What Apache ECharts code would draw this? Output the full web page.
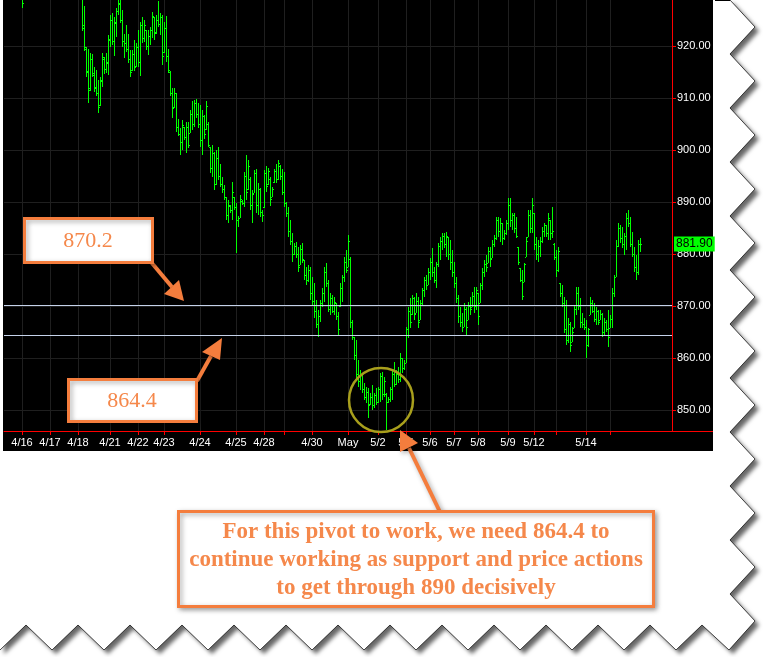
<!DOCTYPE html>
<html><head><meta charset="utf-8">
<script src="https://cdn.jsdelivr.net/npm/echarts@6.0.0/dist/echarts.min.js"></script>
<style>html,body{margin:0;padding:0;background:#fff;}#c{width:763px;height:657px;}</style>
</head><body><div id="c"></div>
<script>
// ---- data ----
const categoryCount = 335;
const tickIndex  = [9, 23, 37, 53, 67, 80, 98, 116, 130, 140, 154, 172, 187, 201, 213, 225, 237, 252, 265, 276, 291, 303];
const tickLabels = ['4/16','4/17','4/18','4/21','4/22','4/23','4/24','4/25','4/28','','4/30','May','5/2','5/5','5/6','5/7','5/8','5/9','5/12','','5/14',''];
const priceTicks = [850, 860, 870, 880, 890, 900, 910, 920];
const yMin = 845.96, yMax = 928.85;
const supportLevels = [870.2, 864.4];
const lastPrice = 881.9;
const barsFrom = 9;
// [open, high, low, close]
const bars = [
[932.0,933.0,927.3,928.2],
null,null,null,null,null,null,null,null,null,null,null,null,null,null,null,null,null,null,null,null,null,null,null,null,null,null,null,null,null,
[929,930.5,922.9,923.5],[924,927.6,919.1,919.8],[919.5,919.8,914.0,915.2],[915,919.4,909.0,911.5],[912,918.6,911.4,917.5],
[917.5,918.5,914.1,914.8],[914.5,916.0,911.2,912.0],[912.2,915.4,910.3,911.0],[911,913.5,907.2,908.2],[908.6,914.1,908.5,913.5],
[913.2,918.6,912.2,917.9],[917.5,917.8,914.6,915.5],[915.5,918.6,914.8,917.0],[916.8,922.1,914.4,921.4],[921.2,926.0,919.9,925.0],
[925.0,926.3,920.2,921.0],[921,925.6,918.0,924.5],[924.6,927.3,921.8,926.8],[926.8,930.0,926.0,928.0],[928.2,929.5,924.4,925.0],
[925,926.9,919.9,921.0],[921,922.4,917.6,920.5],[920.5,924.0,918.9,919.5],[919.5,922.4,916.7,917.5],[917.5,919.2,914.0,915.0],
[915.3,919.2,915.1,918.5],[918.5,921.2,915.1,916.0],[916.2,920.5,916.0,919.8],[919.8,923.1,916.0,917.0],[917,924.7,914.2,924.0],
[924.0,925.6,920.6,921.5],[921.5,925.0,920.8,924.0],[923.0,923.1,919.2,920.0],[920,923.1,918.3,922.0],[922,923.7,920.2,923.0],
[923,926.6,921.5,925.8],[925.5,925.6,921.2,922.5],[922.6,926.0,922.4,925.0],[925,928.7,923.7,924.2],[924.2,926.3,922.1,925.5],
[925.5,926.0,916.3,918.0],[918.8,924.7,918.6,923.5],[923.5,925.8,917.0,918.0],[918.0,919.4,914.9,915.3],[915,915.1,910.3,911.0],
[911,911.9,906.1,908.0],[908.2,911.9,908.0,911.0],[911,911.0,903.5,904.5],[904.5,906.0,902.6,903.0],[903,904.2,899.0,901.5],
[901.5,905.8,900.0,904.8],[904.5,904.5,901.9,902.5],[902.5,905.4,899.5,904.5],[904.5,905.4,900.3,901.0],[903.3,907.7,903.2,907.0],
[907,909.4,903.9,905.0],[905,909.6,904.5,909.0],[909,909.8,906.1,907.0],[907,909.0,904.2,905.0],[905,908.7,900.6,902.0],
[902,907.7,899.0,906.5],[906.5,906.7,902.2,903.0],[904,909.5,903.9,908.5],[905,905.4,900.6,901.0],[900.5,900.6,895.5,896.5],
[896.5,900.9,894.9,899.5],[899.5,899.7,892.3,893.5],[893.5,900.0,893.3,898.5],[898.5,900.6,894.2,895.0],[895,897.4,892.9,893.5],
[893.5,894.9,891.7,892.5],[892.5,893.3,890.4,891.0],[891,891.0,886.5,887.5],[887.5,890.4,886.0,889.5],[889.2,889.4,887.9,888.5],
[888.5,893.8,886.5,892.0],[891,891.0,888.5,889.0],[889,889.8,880.2,886.5],[886.5,887.3,885.2,887.0],[887,891.3,886.9,890.5],
[890.2,890.4,889.4,889.8],[889.8,895.8,889.0,895.0],[895,899.0,890.4,892.0],[892.5,898.1,892.3,897.0],[894.5,894.8,888.5,889.5],
[889.5,892.3,886.0,891.5],[891.8,896.2,891.7,895.5],[895.5,896.4,887.9,889.5],[889.5,893.6,887.5,892.5],[892.5,892.7,887.1,888.0],
[888,888.5,886.2,887.5],[889,896.2,888.8,895.5],[895.5,897.0,891.9,893.0],[893.5,896.6,893.3,896.0],[894.5,894.8,889.2,890.5],
[891,892.9,891.0,892.5],[893.8,896.4,893.6,896.0],[896,897.3,893.6,894.5],[894.5,898.1,894.2,897.5],[897,897.1,894.2,895.0],
[895,896.4,891.3,892.0],[892,895.8,889.0,889.8],[889.8,890.0,887.1,887.8],[887.8,889.0,883.3,884.5],[884.5,886.5,881.7,882.5],
[882.5,884.0,878.5,880.0],[880,882.1,879.8,881.5],[881.5,882.3,879.2,880.0],[880,881.4,876.5,877.5],[877.9,881.7,877.9,881.0],
[881,882.1,878.3,879.0],[878.8,878.8,875.0,876.0],[876,877.5,874.0,875.0],[875,877.9,874.6,877.0],[877,877.5,871.2,872.5],
[872.5,875.6,870.2,871.0],[871,874.4,867.7,869.0],[869,871.2,865.8,866.5],[866.5,869.2,864.1,868.0],[868,871.2,866.9,870.5],
[870.5,873.4,869.8,872.5],[872.5,877.5,870.8,876.5],[876.5,878.3,873.7,874.5],[874.5,875.0,868.8,869.5],[869.5,872.5,868.3,871.5],
[871.5,872.1,868.6,869.0],[869,871.7,868.3,870.8],[870.5,870.6,867.3,868.0],[868,868.8,864.4,865.5],[870,874.4,869.8,873.5],
[873.5,876.0,870.8,875.5],[875.5,879.4,874.6,878.5],[878.5,880.8,876.3,877.0],[877.5,883.7,877.5,882.5],[879,879.4,865.8,867.0],
[867,867.3,863.5,864.5],[864,864.1,859.6,860.5],[860.5,863.5,855.8,857.0],[857,859.6,854.4,855.5],[855.5,857.7,853.8,857.0],
[857,857.1,853.3,854.0],[854,855.2,851.9,852.5],[852.5,854.4,851.3,853.5],[853.5,854.2,848.5,851.0],[851.2,853.3,851.0,852.5],
[852.5,854.8,850.0,851.0],[851,853.3,850.4,852.8],[852.8,854.2,851.0,851.5],[851.5,854.4,851.3,854.0],[854,857.1,851.5,856.5],
[856.5,857.3,851.9,853.0],[853,856.3,852.5,855.5],[853,853.3,846.1,851.5],[851.5,852.5,851.3,852.2],[852.2,854.4,851.5,854.0],
[854,857.7,851.9,857.0],[857,859.2,854.4,855.0],[855,857.7,854.8,857.0],[857,858.3,855.2,856.0],[856,861.0,855.4,860.0],
[860,860.0,857.1,858.0],[858,859.6,857.7,859.0],[859,866.0,859.0,865.5],[865.5,869.8,863.8,869.0],[869,871.5,865.8,867.0],
[868.5,872.1,868.3,871.5],[871.5,871.7,867.3,868.5],[868.6,872.5,868.6,871.0],[871,871.7,865.8,867.0],[867.3,871.2,867.3,870.5],
[870.5,873.4,870.2,873.0],[873,875.6,871.7,875.0],[875,876.0,873.1,874.0],[874,877.3,874.0,876.5],[876.5,879.2,875.0,878.5],
[878.5,881.2,875.6,876.5],[876.5,877.5,874.4,875.0],[875,878.5,873.4,878.0],[878,882.1,877.5,881.5],[881.5,883.3,878.8,882.5],
[882.5,884.0,880.8,883.5],[883.5,884.0,881.2,882.0],[882,884.2,879.4,883.5],[883.3,883.3,878.8,880.0],[880,882.7,876.9,878.5],
[878.5,880.8,875.6,876.5],[876.5,878.5,873.4,874.5],[874.5,875.6,870.6,871.5],[871.5,872.1,866.7,868.0],[868,869.8,866.0,867.0],
[867,868.6,865.0,866.0],[866,870.6,866.0,869.5],[869.5,869.8,864.4,866.0],[867.3,870.8,867.3,870.0],[870,871.7,868.3,869.5],
[869.8,872.7,869.8,872.0],[872,873.7,868.6,870.0],[870,873.7,869.2,873.0],[872.5,872.5,866.3,868.0],[870.6,874.4,870.6,874.0],
[874,877.3,873.1,876.5],[876.5,878.8,875.6,878.0],[878,879.8,876.5,877.5],[878.3,881.4,878.3,880.5],[880.5,881.4,877.5,879.0],
[879.2,882.7,879.2,882.0],[882,883.7,881.4,883.0],[883,887.1,882.7,886.5],[886.5,887.1,883.3,884.5],[884.5,886.9,882.3,886.0],
[886,886.0,881.7,883.0],[883,884.6,882.7,884.0],[884,886.5,883.7,886.0],[886,890.8,884.6,889.5],[889.5,890.8,885.2,886.5],
[886.5,887.9,884.6,887.5],[887.5,887.9,884.0,885.0],[885,887.1,883.1,883.5],[881.4,881.4,877.9,878.5],[877.3,877.3,874.6,875.0],
[875,877.0,871.2,872.0],[874.6,878.3,874.6,878.0],[879.4,883.3,879.4,882.5],[883.3,888.5,883.3,887.5],[887.5,888.5,884.0,885.0],
[885,890.8,884.0,889.5],[887.9,887.9,880.8,882.0],[882,883.3,878.8,880.0],[880,882.7,878.5,881.5],[881.5,883.3,879.4,882.5],
[882.5,885.2,882.1,884.5],[884.5,886.0,883.3,885.5],[885.5,885.6,883.3,884.0],[884,887.9,882.7,887.0],[886.5,886.5,882.7,884.0],
[884,889.0,883.1,884.5],[882,882.1,878.8,879.5],[879.5,880.8,875.6,877.0],[877,881.4,876.5,880.5],[874.4,874.4,871.7,872.5],
[872.5,874.0,869.8,870.5],[870.5,871.7,864.8,865.5],[865.5,871.2,862.5,863.5],[863.5,867.7,862.9,866.5],[866.5,867.0,861.2,862.5],
[863.1,866.0,863.1,865.0],[865.8,870.2,865.8,869.5],[869.5,873.7,868.3,872.5],[872.5,873.7,869.2,870.0],[870,871.5,865.8,867.0],
[867,868.6,865.8,866.5],[866.5,867.7,865.4,866.0],[866,867.3,860.0,862.5],[862.5,865.8,862.1,865.5],[868.3,871.7,868.3,870.5],
[870.5,871.2,868.6,869.0],[869,870.6,866.9,867.5],[867.5,869.8,866.3,869.0],[869,869.2,866.3,867.0],[867.3,869.2,867.3,868.5],
[868.5,868.6,864.1,865.0],[865,867.7,864.4,867.0],[867,867.3,865.0,865.5],[865.5,869.2,862.1,864.0],[865.8,868.3,865.8,867.5],
[867.5,873.4,865.8,872.5],[872.5,876.0,871.7,875.5],[875.6,882.7,875.6,881.5],[881.5,885.9,881.4,885.0],[885,885.6,882.1,883.0],
[883,885.2,881.2,882.0],[882,884.0,879.8,883.5],[883.5,887.9,880.8,887.0],[887,888.5,885.2,886.0],[886,887.1,881.4,882.0],
[882,884.2,879.4,880.0],[880,881.4,876.5,877.5],[877.5,879.8,875.0,876.5],[876.5,882.7,876.0,882.0],[882,883.1,880.4,881.9]
];
const calloutTop = '870.2';
const calloutBottom = '864.4';
const calloutText = 'For this pivot to work, we need 864.4 to\ncontinue working as support and price actions\nto get through 890 decisively';

// ---- build ----
const categories = Array.from({length: categoryCount}, (_, i) => String(i));
const tickSet = new Set(tickIndex);
const labelAt = {};
tickIndex.forEach((t, k) => { labelAt[t] = tickLabels[k]; });
const seriesData = [];
bars.forEach((b, k) => { if (b) seriesData.push([barsFrom + k, b[0], b[1], b[2], b[3]]); });

const ORANGE = '#f47d3d';
const TXT = '#f5884b';
const green = '#00ff00';

function renderItem(params, api) {
  const i = api.value(0);
  const pO = api.coord([i, api.value(1)]);
  const pH = api.coord([i, api.value(2)]);
  const pL = api.coord([i, api.value(3)]);
  const pC = api.coord([i, api.value(4)]);
  const x = Math.round(pH[0]);
  const yh = Math.round(pH[1]), yl = Math.round(pL[1]);
  const st = {fill: green};
  return {type: 'group', children: [
    {type: 'rect', shape: {x: x, y: yh, width: 1, height: Math.max(1, yl - yh)}, style: st},
    {type: 'rect', shape: {x: x - 1, y: Math.round(pO[1]), width: 1, height: 1}, style: st},
    {type: 'rect', shape: {x: x + 1, y: Math.round(pC[1]), width: 1, height: 1}, style: st}
  ]};
}

// torn-paper outline (decoration)
const pagePts = [[0, 0], [730, 0]];
for (let k = 0; k < 12; k++) { pagePts.push([755, 27 + 54 * k]); if (k < 11) pagePts.push([730, 54 + 54 * k]); }
pagePts.push([729, 650]);
for (let x = 702; x > 0; x -= 52) { pagePts.push([x, 625]); pagePts.push([x - 26, 650]); }
pagePts.push([0, 650]);
const edgePts = pagePts.slice(1, pagePts.length - 1);

function textEl(text, x, y, font, lh) {
  return {type: 'text', z: 102, style: {
    text: text, x: x, y: y, font: font, fill: TXT, lineHeight: lh || undefined,
    align: 'center', verticalAlign: 'middle', textAlign: 'center', textVerticalAlign: 'middle'
  }};
}
const shadowed = {shadowBlur: 5, shadowColor: 'rgba(0,0,0,0.35)', shadowOffsetX: 2, shadowOffsetY: 2};
function box(x, y, w, h) {
  return {type: 'rect', z: 100, shape: {x: x, y: y, width: w, height: h},
    style: Object.assign({fill: '#fff', stroke: ORANGE, lineWidth: 3}, shadowed)};
}
function arrow(x1, y1, x2, y2, head) {
  return [
    {type: 'line', z: 99, shape: {x1: x1, y1: y1, x2: x2, y2: y2}, style: Object.assign({stroke: ORANGE, lineWidth: 4}, shadowed)},
    {type: 'polygon', z: 99, shape: {points: head}, style: Object.assign({fill: ORANGE}, shadowed)}
  ];
}

const chart = echarts.init(document.getElementById('c'), null, {renderer: 'canvas'});
chart.setOption({
  animation: false,
  backgroundColor: '#ffffff',
  grid: {left: 4, right: 91, top: 0, bottom: 226, containLabel: false},
  xAxis: {
    type: 'category', data: categories, boundaryGap: false,
    axisLine: {show: true, lineStyle: {color: '#ff0000', width: 1}},
    axisTick: {show: true, length: 4, interval: (i) => tickSet.has(i), lineStyle: {color: '#ff0000'}},
    axisLabel: {interval: (i) => tickSet.has(i), formatter: (v, i) => labelAt[i] || '',
      color: '#ffffff', fontSize: 11, fontFamily: 'Liberation Sans', margin: 6},
    splitLine: {show: true, interval: (i) => tickSet.has(i), lineStyle: {color: '#1f1f1f', width: 1}}
  },
  yAxis: {
    type: 'value', position: 'right', min: yMin, max: yMax, splitNumber: 8, scale: true,
    axisLine: {show: true, lineStyle: {color: '#ff0000', width: 1}},
    axisTick: {show: true, length: 4, customValues: priceTicks, lineStyle: {color: '#ff0000'}},
    axisLabel: {customValues: priceTicks, formatter: (v) => Number(v).toFixed(2),
      color: '#ffffff', fontSize: 11, fontFamily: 'Liberation Sans', margin: 5},
    splitLine: {show: true, lineStyle: {color: '#1f1f1f', width: 1}}
  },
  series: [{
    type: 'custom', renderItem: renderItem, data: seriesData,
    encode: {x: 0, y: [1, 2, 3, 4]}, silent: true,
    markLine: {
      symbol: 'none', silent: true, animation: false,
      data: supportLevels.map((v) => ({yAxis: v, lineStyle: {color: '#c5d2ea', width: 1, type: 'solid'}, label: {show: false}}))
        .concat([{yAxis: lastPrice, lineStyle: {color: 'rgba(0,0,0,0)', width: 1}, label: {show: true, position: 'end', distance: 2,
          formatter: lastPrice.toFixed(2), backgroundColor: '#00ff00', color: '#000000', padding: [2, 2, 1, 2],
          fontSize: 12, fontFamily: 'Liberation Sans', opacity: 1}}])
    }
  }],
  graphic: [
    {type: 'polygon', z: -30, shape: {points: pagePts}, style: {fill: '#ffffff', shadowBlur: 4, shadowColor: 'rgba(0,0,0,0.6)', shadowOffsetX: 4, shadowOffsetY: 4}},
    {type: 'polyline', z: -29, shape: {points: edgePts}, style: {stroke: '#000', lineWidth: 0.7, fill: null}},
    {type: 'rect', z: -20, shape: {x: 3, y: 0, width: 710, height: 451}, style: {fill: '#000000'}},
    {type: 'rect', z: -20, shape: {x: 715, y: 0, width: 15, height: 1}, style: {fill: '#000000'}},
    {type: 'line', z: -5, shape: {x1: 672, y1: 431.5, x2: 713, y2: 431.5}, style: {stroke: '#ff0000', lineWidth: 1}},
    {type: 'circle', z: 60, shape: {cx: 381, cy: 400, r: 32}, style: {fill: null, stroke: '#a89f1c', lineWidth: 2.5}},
    ...arrow(151, 262, 172, 287, [[184, 301], [164, 294], [179, 280]]),
    box(24.5, 218.5, 128, 44),
    textEl(calloutTop, 88, 241, '22px "Liberation Serif"'),
    ...arrow(197, 381, 211, 356, [[222, 338], [202, 352], [220, 360]]),
    box(68.5, 379.5, 128, 42),
    textEl(calloutBottom, 132, 401, '22px "Liberation Serif"'),
    ...arrow(440, 512, 409, 448, [[400, 430], [400, 452], [418, 443]]),
    box(178.5, 511.5, 475, 95),
    textEl(calloutText, 416, 560, 'bold 23px "Liberation Serif"', 28)
  ]
});
</script>
</body></html>
